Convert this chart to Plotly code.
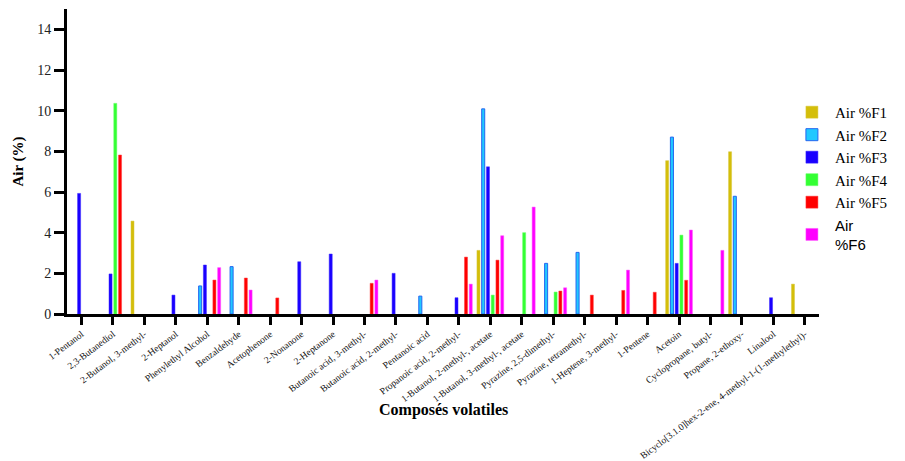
import plotly.graph_objects as go

# Volatile compounds (x categories)
compounds = [
    "1-Pentanol", "2,3-Butanediol", "2-Butanol, 3-methyl-", "2-Heptanol",
    "Phenylethyl Alcohol", "Benzaldehyde", "Acetophenone", "2-Nonanone",
    "2-Heptanone", "Butanoic acid, 3-methyl-", "Butanoic acid, 2-methyl-",
    "Pentanoic acid", "Propanoic acid, 2-methyl-", "1-Butanol, 2-methyl-, acetate",
    "1-Butanol, 3-methyl-, acetate", "Pyrazine, 2,5-dimethyl-", "Pyrazine, tetramethyl-",
    "1-Heptene, 3-methyl-", "1-Pentene", "Acetoin", "Cyclopropane, butyl-",
    "Propane, 2-ethoxy-", "Linalool",
    "Bicyclo[3.1.0]hex-2-ene, 4-methyl-1-(1-methylethyl)-",
]

# Relative peak area (%) per fraction (0 = not detected)
air_f1 = [0, 0, 4.57, 0, 0, 0, 0, 0, 0, 0, 0, 0, 0, 3.13, 0, 0, 0, 0, 0, 7.54, 0, 7.98, 0, 1.47]
air_f2 = [0, 0, 0, 0, 1.38, 2.33, 0, 0, 0, 0, 0, 0.88, 0, 10.09, 0, 2.49, 3.03, 0, 0, 8.70, 0, 5.79, 0, 0]
air_f3 = [5.93, 1.97, 0, 0.93, 2.41, 0, 0, 2.57, 2.95, 0, 2.0, 0, 0.80, 7.24, 0, 0, 0, 0, 0, 2.49, 0, 0, 0.80, 0]
air_f4 = [0, 10.36, 0, 0, 0, 0, 0, 0, 0, 0, 0, 0, 0, 0.93, 4.0, 1.08, 0, 0, 0, 3.88, 0, 0, 0, 0]
air_f5 = [0, 7.82, 0, 0, 1.67, 1.77, 0.79, 0, 0, 1.51, 0, 0, 2.80, 2.65, 0, 1.13, 0.93, 1.16, 1.07, 1.66, 0, 0, 0, 0]
air_f6 = [0, 0, 0, 0, 2.28, 1.18, 0, 0, 0, 1.67, 0, 0, 1.47, 3.85, 5.26, 1.29, 0, 2.16, 0, 4.13, 3.13, 0, 0, 0]

series_names = ["Air %F1", "Air %F2", "Air %F3", "Air %F4", "Air %F5",
                "<span style='font-family:Liberation Sans'>Air<br>%F6</span>"]
series_values = [air_f1, air_f2, air_f3, air_f4, air_f5, air_f6]
fill_colors = ["#D4BE0A", "#20C8FF", "#1A00FF", "#33FF33", "#FF0000", "#FF00FF"]
edge_colors = ["#D8C840", "#2466F0", "#3A2AFF", "#66FF66", "#FF4040", "#FF55FF"]
edge_widths = [0.5, 1.0, 0.5, 0.5, 0.5, 0.5]

serif = "Liberation Serif"

fig = go.Figure()
for name, vals, fc, ec, ew in zip(series_names, series_values, fill_colors, edge_colors, edge_widths):
    # undetected compounds get no bar at all
    fig.add_trace(go.Bar(
        x=compounds, y=[v if v else None for v in vals], name=name,
        marker=dict(color=fc, line=dict(color=ec, width=ew)),
    ))

fig.update_layout(
    width=905, height=461,
    margin=dict(l=67, r=86, t=9, b=147),
    paper_bgcolor="white", plot_bgcolor="white",
    barmode="group", bargap=0.094, bargroupgap=0.36,
    font=dict(family=serif, color="black"),
    showlegend=True,
    legend=dict(
        x=0.96, y=0.715, xanchor="left", yanchor="top",
        font=dict(family=serif, size=15, color="black"),
        itemwidth=36, bgcolor="rgba(0,0,0,0)",
    ),
    xaxis=dict(
        range=[-0.46, 23.45],
        showline=True, linecolor="black", linewidth=3,
        ticks="outside", ticklen=8, tickwidth=3, tickcolor="black",
        tickangle=-37, tickfont=dict(family=serif, size=9.5, color="#111"),
        showgrid=False, zeroline=False, automargin=False,
    ),
    yaxis=dict(
        range=[0, 15], tickvals=[0, 2, 4, 6, 8, 10, 12, 14],
        showline=True, linecolor="black", linewidth=3,
        ticks="outside", ticklen=10, tickwidth=3, tickcolor="black",
        tickfont=dict(family=serif, size=14, color="#222"),
        showgrid=False, zeroline=False, automargin=False,
        title=dict(text="<b>Air (%)</b>", font=dict(family=serif, size=15, color="black"),
                   standoff=10),
    ),
)

fig.add_annotation(
    text="<b>Composés volatiles</b>", xref="paper", yref="paper",
    x=0.5, y=-0.315, xanchor="center", yanchor="middle", showarrow=False,
    font=dict(family=serif, size=16, color="black"),
)

fig.write_html("out.html")
